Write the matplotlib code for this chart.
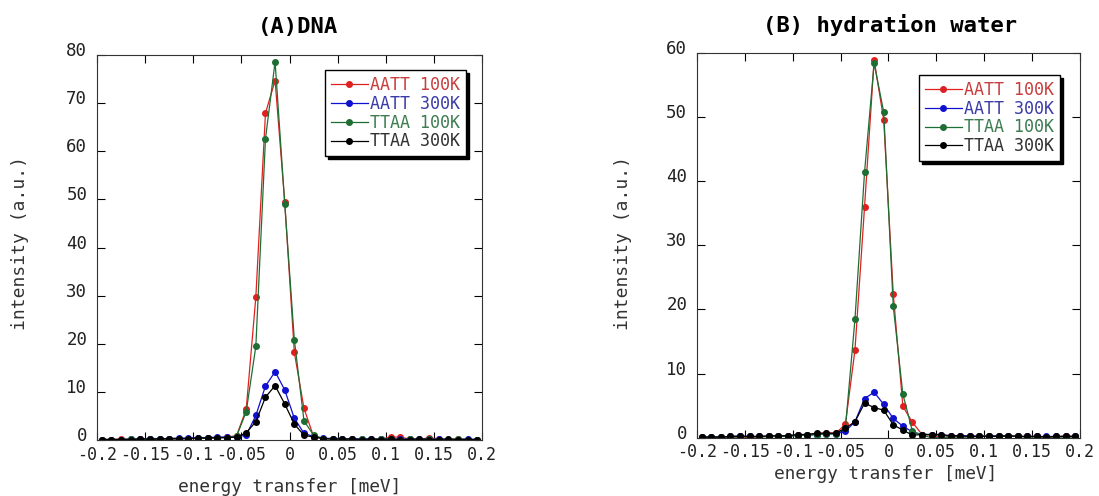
import numpy as np
import matplotlib
matplotlib.use("Agg")
import matplotlib.pyplot as plt
import matplotlib.ticker as ticker
import matplotlib.transforms as mtransforms

plt.rcParams['font.family'] = ['DejaVu Sans Mono', 'DejaVu Sans']
plt.rcParams['axes.unicode_minus'] = False

# energy transfer grid [meV]
energy = [-0.195, -0.185, -0.175, -0.165, -0.155, -0.145, -0.135, -0.125,
          -0.115, -0.105, -0.095, -0.085, -0.075, -0.065, -0.055, -0.045,
          -0.035, -0.025, -0.015, -0.005, 0.005, 0.015, 0.025, 0.035,
          0.045, 0.055, 0.065, 0.075, 0.085, 0.095, 0.105, 0.115,
          0.125, 0.135, 0.145, 0.155, 0.165, 0.175, 0.185, 0.195]

# (A) DNA
dna_aatt_100 = [0.1, 0.1, 0.2, 0.1, 0.2, 0.1, 0.1, 0.2, 0.2, 0.3, 0.3, 0.4,
                0.5, 0.6, 0.9, 6.4, 29.7, 67.9, 74.7, 49.5, 18.2, 6.6, 0.7, 0.3,
                0.2, 0.1, 0.2, 0.1, 0.1, 0.2, 0.6, 0.6, 0.2, 0.1, 0.5, 0.2,
                0.1, 0.2, 0.1, 0.1]
dna_aatt_300 = [0.1, 0.1, 0.1, 0.2, 0.2, 0.3, 0.3, 0.3, 0.4, 0.4, 0.5, 0.5,
                0.6, 0.6, 0.7, 1.0, 5.1, 11.2, 14.2, 10.4, 4.5, 1.4, 0.7, 0.4,
                0.3, 0.3, 0.2, 0.3, 0.2, 0.2, 0.2, 0.2, 0.2, 0.2, 0.2, 0.2,
                0.1, 0.1, 0.2, 0.1]
dna_ttaa_100 = [0.1, 0.1, 0.1, 0.2, 0.1, 0.2, 0.2, 0.2, 0.2, 0.3, 0.3, 0.4,
                0.4, 0.5, 0.8, 5.9, 19.5, 62.6, 78.6, 49.1, 20.8, 4.0, 1.0, 0.3,
                0.2, 0.2, 0.1, 0.2, 0.1, 0.2, 0.2, 0.1, 0.2, 0.1, 0.2, 0.1,
                0.1, 0.2, 0.1, 0.1]
dna_ttaa_300 = [0.1, 0.1, 0.1, 0.1, 0.2, 0.2, 0.2, 0.3, 0.3, 0.3, 0.4, 0.4,
                0.5, 0.5, 0.6, 1.5, 3.8, 8.9, 11.3, 7.5, 3.3, 1.0, 0.6, 0.3,
                0.2, 0.2, 0.2, 0.1, 0.2, 0.1, 0.2, 0.1, 0.1, 0.2, 0.1, 0.1,
                0.2, 0.1, 0.1, 0.1]

# (B) hydration water
hw_aatt_100 = [0.1, 0.1, 0.1, 0.1, 0.2, 0.0, 0.2, 0.2, 0.2, 0.3, 0.4, 0.5,
               0.6, 0.8, 0.7, 2.1, 13.7, 36.0, 58.9, 49.6, 22.4, 4.9, 2.4, 0.5,
               0.4, 0.0, 0.2, 0.2, 0.2, 0.3, 0.3, 0.2, 0.3, 0.2, 0.2, 0.2,
               0.1, 0.1, 0.3, 0.2]
hw_aatt_300 = [0.1, 0.1, 0.1, 0.2, 0.3, 0.2, 0.2, 0.2, 0.2, 0.3, 0.4, 0.4,
               0.5, 0.6, 0.6, 1.0, 2.5, 6.1, 7.1, 5.2, 3.0, 1.8, 0.9, 0.5,
               0.5, 0.4, 0.3, 0.3, 0.3, 0.2, 0.3, 0.3, 0.3, 0.2, 0.2, 0.2,
               0.2, 0.2, 0.2, 0.2]
hw_ttaa_100 = [0.1, 0.1, 0.1, 0.1, 0.1, 0.2, 0.1, 0.2, 0.2, 0.2, 0.3, 0.4,
               0.5, 0.6, 0.6, 1.5, 18.5, 41.4, 58.4, 50.8, 20.5, 6.8, 1.0, 0.4,
               0.0, 0.0, 0.1, 0.1, 0.1, 0.2, 0.2, 0.2, 0.2, 0.2, 0.1, 0.1,
               0.1, 0.1, 0.1, 0.1]
hw_ttaa_300 = [0.1, 0.1, 0.1, 0.2, 0.2, 0.2, 0.2, 0.3, 0.3, 0.3, 0.5, 0.5,
               0.7, 0.7, 0.7, 1.5, 2.5, 5.4, 4.7, 4.3, 2.0, 1.2, 0.4, 0.5,
               0.5, 0.5, 0.3, 0.3, 0.2, 0.2, 0.2, 0.2, 0.3, 0.2, 0.2, 0.2,
               0.1, 0.2, 0.2, 0.2]

labels = ['AATT 100K', 'AATT 300K', 'TTAA 100K', 'TTAA 300K']
line_colors = ['#e02020', '#1010d0', '#1e6e34', '#000000']
text_colors = ['#c83c3c', '#3a3aa8', '#3c7c50', '#303030']
xticks = [-0.2, -0.15, -0.1, -0.05, 0, 0.05, 0.1, 0.15, 0.2]
xtick_labels = ['-0.2', '-0.15', '-0.1', '-0.05', '0', '0.05', '0.1', '0.15', '0.2']

fig = plt.figure(figsize=(10.99, 4.96), dpi=100)
ax1 = fig.add_axes([0.0883, 0.1129, 0.3503, 0.7762])
ax2 = fig.add_axes([0.6342, 0.1175, 0.3485, 0.7756])

panels = [
    (ax1, [dna_aatt_100, dna_aatt_300, dna_ttaa_100, dna_ttaa_300], 80, (0.958, 0.961)),
    (ax2, [hw_aatt_100, hw_aatt_300, hw_ttaa_100, hw_ttaa_300], 60, (0.948, 0.943)),
]

# y tick labels sit a little above their ticks in the original
lift = mtransforms.ScaledTranslation(0, 6 / 100, fig.dpi_scale_trans)

for ax, series, ymax, anchor in panels:
    for y, lab, c in zip(series, labels, line_colors):
        ax.plot(energy, y, '-o', color=c, lw=0.9, ms=4, label=lab)
    ax.set_xlim(-0.2, 0.2)
    ax.set_ylim(0, ymax)
    ax.xaxis.set_major_locator(ticker.FixedLocator(xticks))
    ax.xaxis.set_major_formatter(ticker.FixedFormatter(xtick_labels))
    ax.yaxis.set_major_locator(ticker.MultipleLocator(10))
    ax.tick_params(direction='in', length=6, width=0.8, top=True, right=True,
                   labelcolor='#222222')
    ax.tick_params(axis='x', pad=4, labelsize=12)
    ax.tick_params(axis='y', pad=7, labelsize=12.5)
    for lbl in ax.get_yticklabels():
        lbl.set_transform(lbl.get_transform() + lift)
    for s in ax.spines.values():
        s.set_linewidth(0.8)
        s.set_color('#333333')
    leg = ax.legend(loc='upper right', bbox_to_anchor=anchor, borderaxespad=0,
                    fancybox=False, edgecolor='black', framealpha=1,
                    shadow={'color': 'black', 'alpha': 1},
                    prop={'size': 12}, handlelength=2.2, handletextpad=0.15,
                    labelspacing=0.05, borderpad=0.35)
    leg.get_frame().set_linewidth(1.0)
    for t, c in zip(leg.get_texts(), text_colors):
        t.set_color(c)

fig.text(298 / 1099, 1 - 27 / 496, '(A)DNA', ha='center', va='center',
         fontsize=16, fontweight='bold')
fig.text(890 / 1099, 1 - 25 / 496, '(B) hydration water', ha='center', va='center',
         fontsize=16, fontweight='bold')
fig.text(20 / 1099, 1 - 243 / 496, 'intensity (a.u.)', rotation=90,
         ha='center', va='center', fontsize=13, color='#333333')
fig.text(623 / 1099, 1 - 243 / 496, 'intensity (a.u.)', rotation=90,
         ha='center', va='center', fontsize=13, color='#333333')
fig.text(290 / 1099, 1 - 487 / 496, 'energy transfer [meV]',
         ha='center', va='center', fontsize=12.8, color='#333333')
fig.text(886 / 1099, 1 - 474 / 496, 'energy transfer [meV]',
         ha='center', va='center', fontsize=12.8, color='#333333')

fig.savefig('out.png', dpi=100)
